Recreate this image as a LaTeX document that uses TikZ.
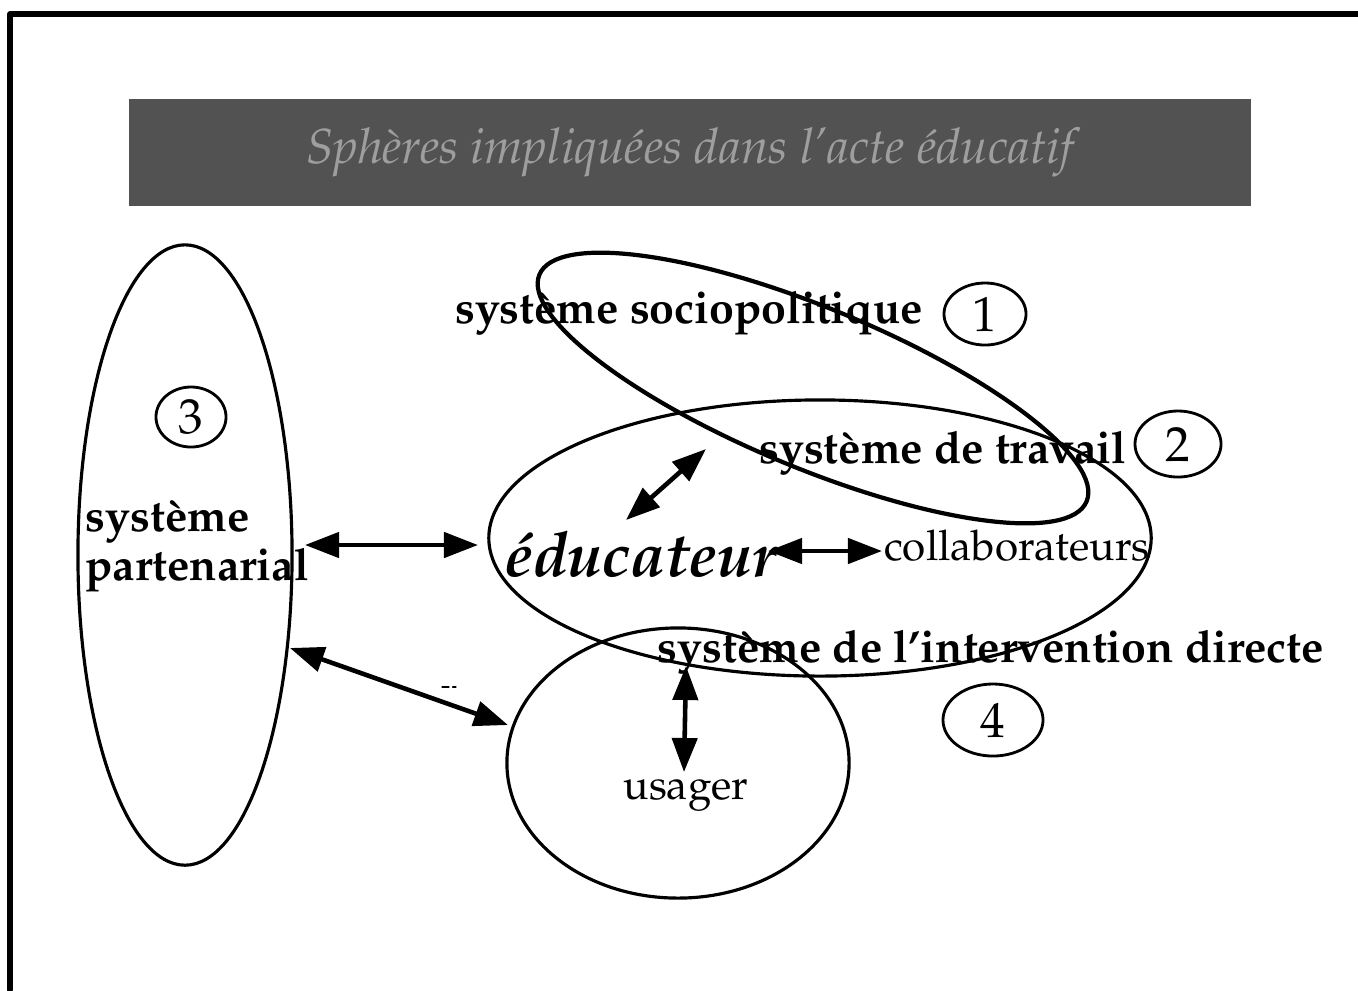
\documentclass[tikz,border=0pt]{standalone}
\usepackage[T1]{fontenc}
\usepackage{mathpazo}
\usetikzlibrary{
    arrows.meta,
    shapes.geometric,
    positioning
}

\begin{document}
\begin{tikzpicture}[x=0.01cm, y=-0.01cm, line cap=round, line join=round]
  \def\hl{0.34cm}  % arrow head length
  \def\hw{0.25cm}  % arrow head width

  \tikzset{
    sphere/.style={draw, ellipse, line width=0.9pt, inner sep=0pt},
    numbox/.style={draw, ellipse, line width=0.8pt, inner sep=0pt,
      font=\fontsize{14}{14}\selectfont},
    lbl/.style={font=\fontsize{12.7}{13.7}\selectfont\bfseries, inner sep=0pt},
    plain/.style={font=\fontsize{12}{14}\selectfont, inner sep=0pt},
    link/.style={line width=1.3pt,
      {Triangle[length=\hl,width=\hw]}-{Triangle[length=\hl,width=\hw]}}
  }

  \useasboundingbox (0,0) rectangle (1358,990);

  % Frame
  \draw[line width=1.5pt] (10,990) -- (10,14) -- (1358,14);

  % Title banner
  \node[fill=black!68, anchor=north west, minimum width=11.22cm,
    minimum height=1.07cm, text=black!38,
    font=\fontsize{14}{14}\selectfont\itshape] (title) at (128,98)
    {Sphères impliquées dans l'acte éducatif};

  % Spheres
  \node[sphere, minimum width=2.14cm, minimum height=6.2cm] (S3) at (185,555) {};
  \node[sphere, minimum width=6.62cm, minimum height=2.76cm] (S2) at (820,538) {};
  \node[sphere, rotate=-22.5, minimum width=5.92cm, minimum height=1.6cm,
    line width=1.2pt] (S1) at (813,388) {};
  \node[sphere, minimum width=3.42cm, minimum height=2.7cm] (S4) at (678,763) {};

  % Labels
  \node[lbl] (socio) at (689,313) {système sociopolitique};
  \node[numbox, minimum width=0.82cm, minimum height=0.62cm] (n1) at (985,314) {1};
  \node[lbl] (travail) at (943,453) {système de travail};
  \node[numbox, minimum width=0.86cm, minimum height=0.66cm] (n2) at (1178,444) {2};
  \node[lbl, align=left, anchor=west] (parten) at (85,546) {système\\partenarial};
  \node[numbox, minimum width=0.7cm, minimum height=0.6cm] (n3) at (191,417) {3};
  \node[inner sep=0pt, font=\fontsize{17.8}{18}\selectfont\bfseries\itshape]
    (educ) at (641,555) {éducateur};
  \node[plain] (collab) at (1017,546) {collaborateurs};
  \node[lbl] (interv) at (991,652) {système de l'intervention directe};
  \node[numbox, minimum width=1cm, minimum height=0.72cm] (n4) at (993,720) {4};
  \node[plain] (usager) at (686,795) {usager};

  % Arrow ends
  \coordinate (pe) at (305,545);
  \coordinate (ep) at (478,545);
  \coordinate (ec) at (768,551);
  \coordinate (ce) at (882,551);
  \coordinate (es) at (626,520);
  \coordinate (se) at (706,449);
  \coordinate (pu) at (290,648);
  \coordinate (up) at (508,725);
  \coordinate (iu) at (686,666);
  \coordinate (ui) at (684,772);

  \draw[link] (pe) -- (ep);
  \draw[link] (ec) -- (ce);
  \draw[link] (es) -- (se);
  \draw[link] (pu) -- (up);
  \draw[link] (iu) -- (ui);

  % stray mark
  \draw[line width=0.3pt, dash pattern=on 2pt off 1pt] (442,687) -- (456,687);
\end{tikzpicture}
\end{document}
